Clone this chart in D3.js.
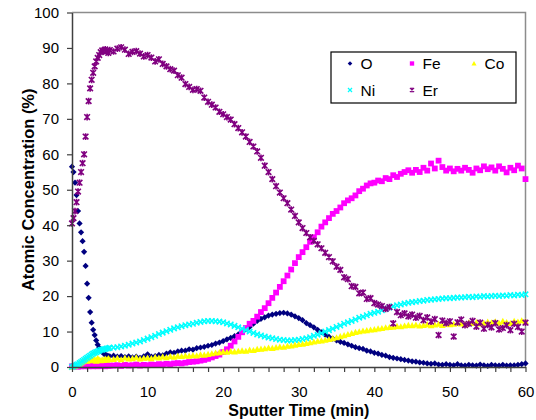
<!DOCTYPE html>
<html>
<head>
<meta charset="utf-8">
<script src="https://cdn.jsdelivr.net/npm/d3@7"></script>
<style>
  html, body { margin: 0; padding: 0; background: #fff; }
  svg { display: block; font-family: "Liberation Sans", Arial, sans-serif; }
</style>
</head>
<body>
<div id="chart"></div>
<script>
// sputter time (min) for every sample, shared by all series
const time = [
  0, 0.2, 0.4, 0.6, 0.8, 1, 1.2, 1.4, 1.6, 1.8,
  2, 2.2, 2.4, 2.6, 2.8, 3, 3.2, 3.4, 3.6, 3.8,
  4, 4.2, 4.4, 4.6, 4.8, 5,
  5.5, 6, 6.5, 7, 7.5, 8, 8.5, 9, 9.5, 10,
  10.5, 11, 11.5, 12, 12.5, 13, 13.5, 14, 14.5, 15,
  15.5, 16, 16.5, 17, 17.5, 18, 18.5, 19, 19.5, 20,
  20.5, 21, 21.5, 22, 22.5, 23, 23.5, 24, 24.5, 25,
  25.5, 26, 26.5, 27, 27.5, 28, 28.5, 29, 29.5, 30,
  30.5, 31, 31.5, 32, 32.5, 33, 33.5, 34, 34.5, 35,
  35.5, 36, 36.5, 37, 37.5, 38, 38.5, 39, 39.5, 40,
  40.5, 41, 41.5, 42, 42.5, 43, 43.5, 44, 44.5, 45,
  45.5, 46, 46.5, 47, 47.5, 48, 48.5, 49, 49.5, 50,
  50.5, 51, 51.5, 52, 52.5, 53, 53.5, 54, 54.5, 55,
  55.5, 56, 56.5, 57, 57.5, 58, 58.5, 59, 59.5, 60
];

const oxygen = [
  56.5, 55.0, 52.0, 48.5, 44.0, 40.5, 38.0, 35.5, 32.5, 28.5,
  23.5, 19.5, 15.5, 12.5, 10.5, 9.0, 7.5, 6.3, 5.4, 4.7,
  4.2, 3.8, 3.5, 3.3, 3.1, 3.0,
  3.2, 2.9, 3.1, 2.8, 3.0, 2.7, 2.9, 2.6, 3.0, 3.6,
  2.9, 3.1, 3.4, 3.3, 3.8, 4.1, 4.0, 4.4, 4.6, 4.6,
  5.0, 4.9, 5.3, 5.5, 5.7, 6.0, 6.2, 6.6, 6.9, 7.3,
  7.8, 8.2, 8.7, 9.2, 10.0, 10.6, 11.3, 12.2, 13.0, 13.6,
  14.0, 14.5, 14.8, 15.0, 15.2, 15.3, 15.1, 14.8, 14.3, 13.8,
  13.2, 12.4, 11.8, 11.2, 10.5, 9.8, 9.1, 8.5, 8.0, 7.5,
  7.1, 6.8, 6.4, 6.0, 5.6, 5.3, 5.1, 4.6, 4.4, 4.0,
  3.8, 3.4, 3.2, 2.8, 2.6, 2.4, 2.2, 2.0, 1.8, 1.6,
  1.5, 1.3, 1.2, 1.0, 0.9, 1.0, 0.7, 0.6, 0.8, 0.6,
  0.5, 0.8, 0.5, 0.4, 0.6, 0.5, 0.4, 0.7, 0.5, 0.3,
  0.6, 0.5, 0.4, 0.6, 0.4, 0.5, 0.5, 0.6, 0.8, 1.0
];

const iron = [
  0.2, 0.1, 0.3, 0.2, 0.1, 0.3, 0.2, 0.4, 0.2, 0.3,
  0.3, 0.2, 0.4, 0.3, 0.2, 0.4, 0.3, 0.2, 0.4, 0.3,
  0.3, 0.4, 0.2, 0.5, 0.3, 0.4,
  0.4, 0.5, 0.3, 0.6, 0.4, 0.5, 0.7, 0.4, 0.6, 0.5,
  0.7, 0.6, 0.8, 0.7, 0.9, 0.8, 1.0, 1.1, 1.0, 1.2,
  1.4, 1.5, 1.6, 1.8, 2.0, 2.3, 2.7, 3.1, 3.5, 4.2,
  5.0, 6.0, 7.2, 8.5, 9.8, 11.0, 12.2, 13.0, 14.2, 15.5,
  16.6, 18.0, 19.5, 21.0, 22.6, 24.2, 25.8, 27.5, 29.3, 31.0,
  32.4, 33.8, 35.3, 36.6, 38.0, 39.6, 40.8, 42.0, 43.2, 44.0,
  45.0, 46.2, 47.0, 47.6, 48.4, 49.6, 50.3, 51.2, 51.8, 52.0,
  52.6, 52.4, 53.3, 53.0, 54.1, 53.6, 54.5, 55.0, 55.5, 54.8,
  55.6, 55.0, 56.2, 55.4, 57.4, 56.0, 58.2, 56.4, 55.4, 56.0,
  55.2, 55.9, 55.4, 56.2, 55.6, 54.8, 56.0, 55.5, 56.6, 55.8,
  56.3, 55.4, 56.6, 55.9, 54.9, 56.2, 55.5, 56.8, 56.0, 53.0
];

const cobalt = [
  0.0, 0.1, 0.2, 0.4, 0.6, 0.9, 1.2, 1.5, 1.8, 2.0,
  1.7, 2.1, 1.8, 2.4, 1.9, 2.2, 1.7, 2.5, 2.0, 1.8,
  2.1, 1.9, 2.3, 2.0, 2.4, 2.1,
  2.2, 2.5, 2.1, 2.6, 2.3, 2.4, 2.7, 2.3, 2.5, 2.6,
  2.4, 2.8, 2.6, 2.9, 2.7, 3.0, 2.8, 3.1, 3.0, 3.2,
  3.1, 3.3, 3.2, 3.5, 3.4, 3.6, 3.8, 4.0, 4.1, 4.3,
  4.2, 4.4, 4.3, 4.5, 4.6, 4.5, 4.8, 4.7, 5.0, 5.1,
  5.2, 5.4, 5.3, 5.5, 5.7, 5.6, 5.9, 6.0, 6.2, 6.4,
  6.5, 6.7, 6.9, 7.1, 7.3, 7.4, 7.6, 7.8, 8.0, 8.3,
  8.6, 8.9, 9.2, 9.5, 9.8, 10.0, 10.2, 10.3, 10.5, 10.6,
  10.8, 10.9, 11.1, 11.2, 11.3, 11.5, 11.4, 11.6, 11.8, 11.7,
  11.9, 11.6, 11.8, 12.0, 11.7, 11.9, 12.1, 11.8, 12.2, 12.0,
  12.1, 12.4, 12.2, 12.0, 12.5, 12.3, 12.6, 12.2, 12.4, 12.7,
  12.5, 12.8, 12.4, 12.9, 12.6, 12.3, 12.9, 12.7, 13.1, 12.8
];

const nickel = [
  0.0, 0.2, 0.4, 0.6, 0.8, 1.1, 1.4, 1.7, 2.0, 2.3,
  2.6, 2.9, 3.2, 3.5, 3.8, 4.0, 4.2, 4.4, 4.6, 4.8,
  4.9, 5.0, 5.1, 5.2, 5.3, 5.4,
  5.5, 5.6, 5.8, 6.0, 6.3, 6.6, 6.9, 7.2, 7.6, 8.0,
  8.4, 8.8, 9.3, 9.7, 10.1, 10.5, 10.9, 11.2, 11.5, 11.8,
  12.0, 12.2, 12.5, 12.7, 12.9, 13.0, 13.0, 12.9, 12.8, 12.6,
  12.3, 12.0, 11.6, 11.2, 10.8, 10.4, 10.0, 9.6, 9.2, 8.9,
  8.6, 8.3, 8.1, 7.9, 7.7, 7.6, 7.5, 7.5, 7.6, 7.7,
  7.9, 8.1, 8.4, 8.8, 9.1, 9.5, 10.0, 10.4, 10.8, 11.3,
  11.7, 12.2, 12.6, 13.0, 13.4, 13.9, 14.2, 14.6, 15.0, 15.3,
  15.6, 16.0, 16.4, 16.8, 17.1, 17.4, 17.6, 17.9, 18.1, 18.3,
  18.4, 18.6, 18.7, 18.9, 19.0, 19.1, 19.2, 19.3, 19.4, 19.4,
  19.5, 19.6, 19.6, 19.7, 19.8, 19.7, 19.9, 19.8, 20.0, 19.9,
  20.0, 20.1, 20.0, 20.2, 20.1, 20.3, 20.2, 20.4, 20.3, 20.5
];

const erbium = [
  40.5, 42.0, 44.0, 46.5, 49.5, 52.0, 55.0, 57.5, 60.0, 65.0,
  70.5, 75.0, 78.6, 81.0, 83.0, 84.8, 86.2, 87.2, 88.0, 88.8,
  89.3, 89.0, 89.6, 89.2, 88.6, 89.4,
  89.0, 89.8, 90.2, 89.5, 88.3, 88.9, 89.1, 88.4, 87.6, 88.0,
  87.3, 86.2, 86.8, 85.5, 84.8, 84.0, 83.6, 82.3, 81.6, 79.8,
  79.0, 78.2, 78.4, 77.9, 76.0, 74.8, 74.0, 73.2, 72.0, 71.3,
  70.5, 69.8, 68.5, 67.4, 66.2, 65.0, 63.5, 62.2, 60.8, 59.0,
  56.8, 55.0, 53.0, 51.0, 49.2, 47.6, 46.2, 44.4, 42.6, 40.8,
  39.2, 37.8, 36.6, 35.6, 34.6, 33.5, 32.2, 31.0, 29.8, 28.3,
  27.4, 25.3, 24.8, 22.8, 22.6, 20.8, 21.0, 19.2, 19.4, 18.0,
  17.6, 17.2, 16.4, 16.9, 12.3, 15.5, 14.6, 15.1, 14.3, 14.8,
  13.9, 14.4, 13.2, 14.0, 12.8, 13.5, 9.0, 13.1, 12.4, 12.9,
  8.6, 12.6, 13.4, 11.8, 12.2, 13.0, 11.4, 12.5, 10.8, 11.9,
  11.2, 12.4, 10.6, 11.0, 11.8, 10.4, 12.2, 11.3, 10.0, 12.5
];

const seriesNames = ['O', 'Fe', 'Co', 'Ni', 'Er'];
const xTicks = [0, 10, 20, 30, 40, 50, 60];
const xMinorTicks = d3.range(0, 61, 2);
const yTicks = [0, 10, 20, 30, 40, 50, 60, 70, 80, 90, 100];

(function () {
  const width = 536, height = 420;
  const left = 72, right = 525.5, top = 12.5, bottom = 367;

  // Excel-like marker paths, drawn around (0,0)
  const marker = {
    diamond: r => `M0,${-r}L${r},0L0,${r}L${-r},0Z`,
    square: r => `M${-r},${-r}h${2 * r}v${2 * r}h${-2 * r}Z`,
    triangle: r => `M0,${-r}L${r},${r * 0.8}L${-r},${r * 0.8}Z`,
    cross: r => `M${-r},${-r}L${r},${r}M${-r},${r}L${r},${-r}`,
    star: r => `M${-r},${-r}L${r},${r}M${-r},${r}L${r},${-r}M0,${-r * 1.2}V${r * 1.2}`
  };

  const styles = {
    O:  { values: oxygen, shape: 'diamond', r: 3.1, fill: '#000080', stroke: 'none' },
    Fe: { values: iron,   shape: 'square',  r: 2.9, fill: '#ff00ff', stroke: 'none' },
    Co: { values: cobalt, shape: 'triangle', r: 3.4, fill: '#ffff00', stroke: 'none' },
    Ni: { values: nickel, shape: 'cross',   r: 2.7, fill: 'none', stroke: '#00ffff' },
    Er: { values: erbium, shape: 'star',    r: 2.8, fill: 'none', stroke: '#800080' }
  };

  seriesNames.forEach(n => {
    if (styles[n].values.length !== time.length) console.warn(n, 'length mismatch');
  });

  const x = d3.scaleLinear().domain([0, 60]).range([left, right]);
  const y = d3.scaleLinear().domain([0, 100]).range([bottom, top]);

  const svg = d3.select('#chart').append('svg')
    .attr('width', width)
    .attr('height', height);

  // plot frame: top and right edges are lighter
  svg.append('path')
    .attr('d', `M${left},${top}H${right}V${bottom}`)
    .attr('fill', 'none')
    .attr('stroke', '#8c8c8c')
    .attr('stroke-width', 1.5);

  // markers, drawn in series order
  seriesNames.forEach(name => {
    const s = styles[name];
    svg.append('g')
      .selectAll('path')
      .data(time.map((t, i) => [t, s.values[i]]))
      .join('path')
      .attr('transform', d => `translate(${x(d[0])},${y(d[1])})`)
      .attr('d', marker[s.shape](s.r))
      .attr('fill', s.fill)
      .attr('stroke', s.stroke)
      .attr('stroke-width', 1.6);
  });

  // x axis with a tick every 2 min, labels every 10
  const xAxis = svg.append('g')
    .attr('transform', `translate(0,${bottom})`)
    .call(d3.axisBottom(x).tickValues(xMinorTicks).tickSize(5).tickSizeOuter(0)
      .tickPadding(14.5)
      .tickFormat(d => xTicks.includes(d) ? d : ''));

  const yAxis = svg.append('g')
    .attr('transform', `translate(${left},0)`)
    .call(d3.axisLeft(y).tickValues(yTicks).tickSize(5).tickSizeOuter(0)
      .tickPadding(8));

  [xAxis, yAxis].forEach(a => {
    a.select('.domain').attr('stroke', '#404040').attr('stroke-width', 1.5);
    a.selectAll('.tick line').attr('stroke', '#404040').attr('stroke-width', 1.2);
    a.selectAll('.tick text')
      .attr('fill', '#000')
      .style('font-size', '15px')
      .style('font-family', '"Liberation Sans", Arial, sans-serif');
  });

  // axis titles
  svg.append('text')
    .attr('x', (left + right) / 2)
    .attr('y', 416)
    .attr('text-anchor', 'middle')
    .style('font-size', '16px')
    .style('font-weight', 'bold')
    .text('Sputter Time (min)');

  svg.append('text')
    .attr('transform', `translate(33.5,${(top + bottom) / 2}) rotate(-90)`)
    .attr('text-anchor', 'middle')
    .style('font-size', '16.5px')
    .style('font-weight', 'bold')
    .text('Atomic Concentration (%)');

  // legend
  const legend = svg.append('g');
  legend.append('rect')
    .attr('x', 331).attr('y', 52)
    .attr('width', 185).attr('height', 51)
    .attr('fill', '#fff')
    .attr('stroke', '#000')
    .attr('stroke-width', 1.2);

  const legendPos = {
    O: [350, 63.5], Fe: [412, 63.5], Co: [474, 63.5],
    Ni: [350, 90], Er: [412, 90]
  };

  seriesNames.forEach(name => {
    const s = styles[name];
    const [lx, ly] = legendPos[name];
    legend.append('path')
      .attr('transform', `translate(${lx},${ly})`)
      .attr('d', marker[s.shape](s.r * 0.75))
      .attr('fill', s.fill)
      .attr('stroke', s.stroke)
      .attr('stroke-width', 1.2);
    legend.append('text')
      .attr('x', lx + 10.5)
      .attr('y', ly + 5.5)
      .style('font-size', '15.5px')
      .text(name);
  });
})();
</script>
</body>
</html>
